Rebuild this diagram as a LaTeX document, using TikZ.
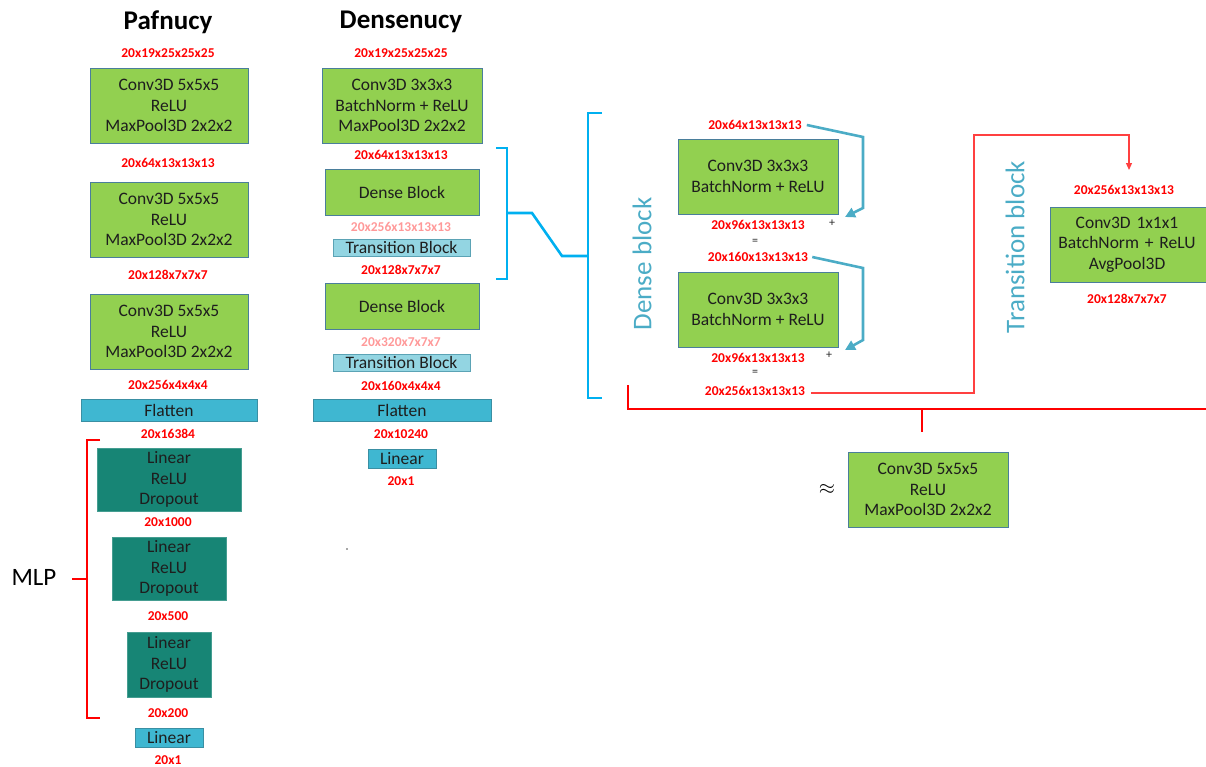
\documentclass[tikz,border=0pt]{standalone}
\usepackage{fontspec}
\setmainfont{Carlito}
\usetikzlibrary{arrows.meta}
\definecolor{boxgreen}{HTML}{92D050}
\definecolor{boxedge}{HTML}{4A7E9B}
\definecolor{flatfill}{HTML}{3FB7D1}
\definecolor{flatedge}{HTML}{3A8FA3}
\definecolor{transfill}{HTML}{93D5E2}
\definecolor{transedge}{HTML}{5BA3B5}
\definecolor{mlpfill}{HTML}{178575}
\definecolor{brblue}{HTML}{00B0F0}
\definecolor{cyanlab}{HTML}{4BACC6}
\definecolor{pinklab}{HTML}{FF9999}
\definecolor{boxtext}{HTML}{1E1E1E}
\tikzset{
  layer/.style={draw=boxedge, fill=boxgreen, line width=0.9pt, align=center, inner sep=0pt,
    text=boxtext, font=\fontsize{17.5}{20.5}\selectfont},
  flatbox/.style={draw=flatedge, fill=flatfill, line width=0.9pt, align=center, inner sep=0pt,
    text=boxtext, font=\fontsize{17.5}{18}\selectfont},
  transbox/.style={draw=transedge, fill=transfill, line width=0.9pt, align=center, inner sep=0pt,
    text=boxtext, font=\fontsize{17.5}{18}\selectfont},
  mlpbox/.style={draw=mlpfill!80!white, fill=mlpfill, line width=0.9pt, align=center, inner sep=0pt,
    text=boxtext, font=\fontsize{17.5}{20.5}\selectfont},
  dimlab/.style={text=red, font=\bfseries\fontsize{13.5}{14}\selectfont, inner sep=0pt},
  pinkdim/.style={text=pinklab, font=\bfseries\fontsize{13.5}{14}\selectfont, inner sep=0pt},
  title/.style={font=\bfseries\fontsize{27}{28}\selectfont, text=black, inner sep=0pt},
  sidelab/.style={text=cyanlab, font=\fontsize{27}{28}\selectfont, inner sep=0pt, rotate=90},
  opsym/.style={text=black!85, font=\fontsize{12}{12}\selectfont, inner sep=0pt},
  bluebr/.style={draw=brblue, line width=2.6pt},
  redbr/.style={draw=red, line width=2.4pt},
  thinred/.style={draw=red!75, line width=1.1pt},
  cyanarrow/.style={draw=cyanlab, line width=2.6pt, -{Triangle[length=10pt,width=10pt]}}
}
\begin{document}
\begin{tikzpicture}[x=1pt,y=-1pt]
\useasboundingbox (0,0) rectangle (1206,766);

% ---------------- Pafnucy ----------------
\node[title] (ptitle) at (168,22) {Pafnucy};
\node[dimlab] (pd0) at (168,53) {20x19x25x25x25};
\node[layer, minimum width=158pt, minimum height=75pt] (p1) at (169,105.5) {Conv3D 5x5x5\\ReLU\\MaxPool3D 2x2x2};
\node[dimlab] (pd1) at (168,163) {20x64x13x13x13};
\node[layer, minimum width=158pt, minimum height=75pt] (p2) at (169,219.5) {Conv3D 5x5x5\\ReLU\\MaxPool3D 2x2x2};
\node[dimlab] (pd2) at (168,275) {20x128x7x7x7};
\node[layer, minimum width=158pt, minimum height=75pt] (p3) at (169,331.5) {Conv3D 5x5x5\\ReLU\\MaxPool3D 2x2x2};
\node[dimlab] (pd3) at (168,385) {20x256x4x4x4};
\node[flatbox, minimum width=176pt, minimum height=22pt] (pflat) at (169,410) {Flatten};
\node[dimlab] (pd4) at (168,434) {20x16384};
\node[mlpbox, minimum width=144pt, minimum height=63pt] (m1) at (169,479.5) {Linear\\ReLU\\Dropout};
\node[dimlab] (pd5) at (168,522) {20x1000};
\node[mlpbox, minimum width=114pt, minimum height=63pt] (m2) at (169,568.5) {Linear\\ReLU\\Dropout};
\node[dimlab] (pd6) at (168,616) {20x500};
\node[mlpbox, minimum width=84pt, minimum height=65pt] (m3) at (169,664.5) {Linear\\ReLU\\Dropout};
\node[dimlab] (pd7) at (168,713) {20x200};
\node[flatbox, minimum width=68pt, minimum height=19pt] (plin) at (169,737.5) {Linear};
\node[dimlab] (pd8) at (168,760) {20x1};

% MLP bracket
\coordinate (mlpTop) at (100,440);
\coordinate (mlpBot) at (100,718);
\node[font=\fontsize{25}{26}\selectfont, inner sep=0pt] (mlp) at (34,577) {MLP};
\draw[redbr, line width=2pt] (mlpTop) -- (87,440) -- (87,718) -- (mlpBot);
\draw[redbr, line width=2pt] (87,579) -- (72,579);

% ---------------- Densenucy ----------------
\node[title] (dtitle) at (401,22) {Densenucy};
\node[dimlab] (dd0) at (401,53) {20x19x25x25x25};
\node[layer, minimum width=160pt, minimum height=75pt] (d1) at (402,105.5) {Conv3D 3x3x3\\BatchNorm + ReLU\\MaxPool3D 2x2x2};
\node[dimlab] (dd1) at (401,155) {20x64x13x13x13};
\node[layer, minimum width=154pt, minimum height=46pt] (db1) at (402,192) {Dense Block};
\node[pinkdim] (dd2) at (401,227) {20x256x13x13x13};
\node[transbox, minimum width=137pt, minimum height=17pt] (tb1) at (401.5,247.5) {Transition Block};
\node[dimlab] (dd3) at (401,270) {20x128x7x7x7};
\node[layer, minimum width=154pt, minimum height=46pt] (db2) at (402,306) {Dense Block};
\node[pinkdim] (dd4) at (401,342) {20x320x7x7x7};
\node[transbox, minimum width=137pt, minimum height=17pt] (tb2) at (401.5,362.5) {Transition Block};
\node[dimlab] (dd5) at (401,386) {20x160x4x4x4};
\node[flatbox, minimum width=178pt, minimum height=22pt] (dflat) at (402,410) {Flatten};
\node[dimlab] (dd6) at (401,434) {20x10240};
\node[flatbox, minimum width=68pt, minimum height=19pt] (dlin) at (402,458.5) {Linear};
\node[dimlab] (dd7) at (401,481) {20x1};
\fill[black!70] (347,549) circle (0.8pt);

% small blue bracket + link to big bracket
\draw[bluebr] (496,148) -- (507,148) -- (507,279) -- (496,279);
\draw[bluebr] (507,213) -- (532,213) -- (562,256) -- (588,256);
\draw[bluebr] (602,113) -- (588,113) -- (588,398) -- (602,398);

% ---------------- Dense block detail ----------------
\node[sidelab] (dlab) at (642,264) {Dense block};
\node[dimlab] (e0) at (755,125) {20x64x13x13x13};
\node[layer, minimum width=160pt, minimum height=75pt] (c1) at (758,176.5) {Conv3D 3x3x3\\BatchNorm + ReLU};
\node[dimlab] (e1) at (758,225) {20x96x13x13x13};
\node[opsym] (plus1) at (832,223) {+};
\node[opsym] (eq1) at (755,242) {=};
\node[dimlab] (e2) at (758,257) {20x160x13x13x13};
\node[layer, minimum width=160pt, minimum height=75pt] (c2) at (758,309.5) {Conv3D 3x3x3\\BatchNorm + ReLU};
\node[dimlab] (e3) at (758,358) {20x96x13x13x13};
\node[opsym] (plus2) at (829,355) {+};
\node[opsym] (eq2) at (755,373) {=};
\node[dimlab] (e4) at (755,391) {20x256x13x13x13};

\draw[cyanarrow] (e0.east) ++(5,0) -- (863,137) -- (863,208) -- (845,217);
\draw[cyanarrow] (e2.east) ++(4,0) -- (863,268) -- (863,340) -- (845,350);

% ---------------- Transition block detail ----------------
\node[sidelab] (tlab) at (1015,247) {Transition block};
\node[dimlab] (t0) at (1124,190) {20x256x13x13x13};
\node[layer, minimum width=160pt, minimum height=75pt, text width=154pt] (tr) at (1130,244.5) {\hspace*{-6pt}Conv3D 1x1x1\\\hspace*{-6pt}BatchNorm + ReLU\\\hspace*{-6pt}AvgPool3D};
\node[dimlab] (t1) at (1127,299) {20x128x7x7x7};
\coordinate (tin) at (1129,170);
\draw[thinred, -{Triangle[length=7pt,width=6pt]}] (e4.east) ++(6,2) -- (974,393) -- (974,135) -- (1129,135) -- (tin);

% ---------------- Big red bracket + equivalent block ----------------
\draw[redbr] (628,385) -- (628,409) -- (1210,409);
\draw[redbr] (922,409) -- (922,432);
\node[layer, minimum width=160pt, minimum height=75pt] (eqv) at (928,489.5) {Conv3D 5x5x5\\ReLU\\MaxPool3D 2x2x2};
\node[font=\fontsize{20}{22}\selectfont, inner sep=0pt] (approx) at (827,489) {$\approx$};
\end{tikzpicture}
\end{document}
